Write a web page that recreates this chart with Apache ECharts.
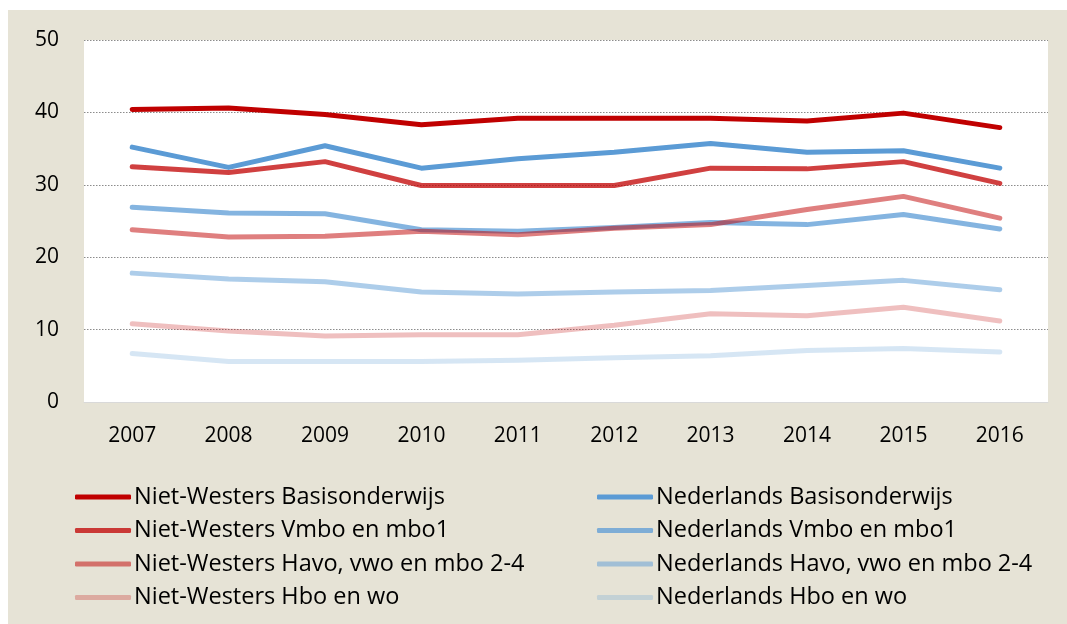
<!DOCTYPE html>
<html>
<head>
<meta charset="utf-8">
<script src="https://cdn.jsdelivr.net/npm/echarts@6/dist/echarts.min.js"></script>
<style>
  html, body { margin: 0; padding: 0; background: #ffffff; }
  #chart { width: 1067px; height: 624px; }
</style>
</head>
<body>
<div id="chart"></div>
<script>
// Years on the x axis
const years = ['2007', '2008', '2009', '2010', '2011', '2012', '2013', '2014', '2015', '2016'];

// Niet-Westers, by education level
const nwBasis = [40.4, 40.6, 39.7, 38.3, 39.2, 39.2, 39.2, 38.8, 39.9, 37.9];
const nwVmbo  = [32.5, 31.7, 33.2, 29.9, 29.9, 29.9, 32.3, 32.2, 33.2, 30.2];
const nwHavo  = [23.8, 22.8, 22.9, 23.6, 23.1, 24.0, 24.5, 26.6, 28.4, 25.4];
const nwHbo   = [10.8,  9.8,  9.1,  9.3,  9.3, 10.6, 12.2, 11.9, 13.1, 11.2];

// Nederlands, by education level
const nlBasis = [35.2, 32.4, 35.4, 32.3, 33.6, 34.5, 35.7, 34.5, 34.7, 32.3];
const nlVmbo  = [26.9, 26.1, 26.0, 23.8, 23.6, 24.1, 24.8, 24.5, 25.9, 23.9];
const nlHavo  = [17.8, 17.0, 16.6, 15.2, 14.9, 15.2, 15.4, 16.1, 16.8, 15.5];
const nlHbo   = [ 6.7,  5.6,  5.6,  5.6,  5.75, 6.1,  6.4,  7.1,  7.4,  6.9];

// Y axis ticks
const yMin = 0, yMax = 50, yStep = 10;

const seriesNames = {
  nwBasis: 'Niet-Westers Basisonderwijs',
  nwVmbo: 'Niet-Westers Vmbo en mbo1',
  nwHavo: 'Niet-Westers Havo, vwo en mbo 2-4',
  nwHbo: 'Niet-Westers Hbo en wo',
  nlBasis: 'Nederlands Basisonderwijs',
  nlVmbo: 'Nederlands Vmbo en mbo1',
  nlHavo: 'Nederlands Havo, vwo en mbo 2-4',
  nlHbo: 'Nederlands Hbo en wo'
};

const FONT = '"Open Sans", "Noto Sans", sans-serif';
const red = 'rgba(192,0,0,', blue = 'rgba(91,155,213,';

function line(name, data, color) {
  return {
    name: name,
    type: 'line',
    data: data,
    showSymbol: false,
    symbol: 'none',
    lineStyle: { width: 5, color: color, cap: 'round', join: 'round' },
    itemStyle: { color: color },
    emphasis: { disabled: true },
    z: 2
  };
}

const series = [
  line(seriesNames.nlHbo,   nlHbo,   blue + '0.25)'),
  line(seriesNames.nwHbo,   nwHbo,   red + '0.25)'),
  line(seriesNames.nlHavo,  nlHavo,  blue + '0.5)'),
  line(seriesNames.nlVmbo,  nlVmbo,  blue + '0.75)'),
  line(seriesNames.nwHavo,  nwHavo,  red + '0.5)'),
  line(seriesNames.nwVmbo,  nwVmbo,  red + '0.75)'),
  line(seriesNames.nlBasis, nlBasis, blue + '1)'),
  line(seriesNames.nwBasis, nwBasis, red + '1)')
];

const legendCommon = {
  orient: 'vertical',
  top: 485,
  padding: 0,
  itemWidth: 56,
  itemHeight: 5,
  itemGap: 9.5,
  icon: 'roundRect',
  selectedMode: false,
  textStyle: { fontFamily: FONT, fontSize: 23.5, color: '#000', padding: [0, 0, 0, -2] }
};

const chart = echarts.init(document.getElementById('chart'), null, { renderer: 'canvas' });
chart.setOption({
  backgroundColor: '#ffffff',
  animation: false,
  graphic: [{
    type: 'rect',
    shape: { x: 8, y: 10, width: 1067, height: 624 },
    style: { fill: '#E6E3D6' },
    z: -10,
    silent: true
  }],
  grid: {
    left: 84, top: 40, right: 19, bottom: 222,
    show: true, backgroundColor: '#ffffff', borderWidth: 0
  },
  legend: [
    Object.assign({}, legendCommon, {
      left: 75,
      data: [seriesNames.nwBasis, seriesNames.nwVmbo, seriesNames.nwHavo, seriesNames.nwHbo]
    }),
    Object.assign({}, legendCommon, {
      left: 597,
      data: [seriesNames.nlBasis, seriesNames.nlVmbo, seriesNames.nlHavo, seriesNames.nlHbo]
    })
  ],
  xAxis: {
    type: 'category',
    data: years,
    boundaryGap: true,
    axisLine: { show: true, lineStyle: { color: '#d9d9d9', width: 1 } },
    axisTick: { show: false },
    axisLabel: { fontFamily: FONT, fontSize: 21, color: '#000', margin: 24 }
  },
  yAxis: {
    type: 'value',
    min: yMin, max: yMax, interval: yStep,
    axisLine: { show: false },
    axisTick: { show: false },
    axisLabel: { fontFamily: FONT, fontSize: 21, color: '#000', margin: 25 },
    splitLine: {
      show: true,
      lineStyle: { color: '#8c8c8c', width: 1.2, type: [1.5, 1.5] }
    }
  },
  series: series
});
</script>
</body>
</html>
